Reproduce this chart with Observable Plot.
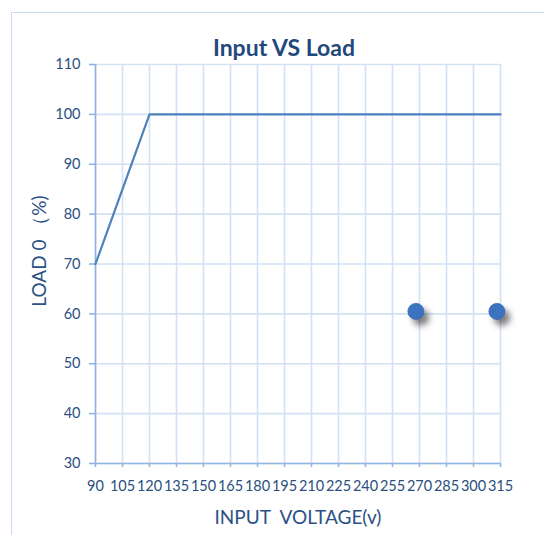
<!DOCTYPE html>
<html><head><meta charset="utf-8">
<script src="https://cdn.jsdelivr.net/npm/d3@7"></script>
<script src="https://cdn.jsdelivr.net/npm/@observablehq/plot@0.6"></script>
<style>
html,body{margin:0;padding:0;background:#fff;overflow:hidden;}
#wrap{position:relative;width:544px;height:535px;overflow:hidden;font-family:Lato,"Open Sans",sans-serif;}
#frame{position:absolute;left:11px;top:12px;width:560px;height:560px;border:1.5px solid #c8dbf2;box-sizing:border-box;}
#title{position:absolute;left:0;width:568px;top:36px;text-align:center;font-size:23px;font-weight:bold;color:#1f497d;line-height:1;}
#xlab{position:absolute;left:0;width:596px;top:507px;text-align:center;font-size:19px;color:#2a5185;white-space:pre;line-height:1;}
#ylab{position:absolute;left:37.5px;top:251px;transform:translate(-50%,-50%) rotate(-90deg);font-size:19px;color:#2a5185;white-space:pre;line-height:1;}
#chart{position:absolute;left:0;top:0;}
g[aria-label="dot"] circle{filter:drop-shadow(5px 6px 3px rgba(0,0,0,0.5));}
</style></head>
<body><div id="wrap"><div id="frame"></div><div id="chart"></div>
<div id="title">Input VS Load</div>
<div id="xlab">INPUT  VOLTAGE(v)</div>
<div id="ylab">LOAD 0 （%)</div></div>
<script>
const xTicks = [90,105,120,135,150,165,180,195,210,225,240,255,270,285,300,315];
const yTicks = [30,40,50,60,70,80,90,100,110];
const lineX = [90,120,315];
const lineY = [70,100,100];
const dotX = [268,313];
const dotY = [60.5,60.5];

const lineData = lineX.map((x,i)=>({x, y:lineY[i]}));
const dotData = dotX.map((x,i)=>({x, y:dotY[i]}));

const plot = Plot.plot({
  width:544, height:535,
  marginLeft:95, marginRight:44, marginTop:64, marginBottom:72,
  style:{fontFamily:"Lato, 'Open Sans', sans-serif", fontSize:"14.5px", color:"#2a4f80", background:"transparent"},
  x:{domain:[90,315], ticks:xTicks, label:null},
  y:{domain:[30,110], ticks:yTicks, label:null},
  marks:[
    Plot.ruleX(xTicks, {stroke:"#d2e1f4", strokeWidth:1.6}),
    Plot.ruleY(yTicks, {stroke:"#d2e1f4", strokeWidth:1.6}),
    Plot.ruleX([90], {stroke:"#8fb4e3", strokeWidth:1.6}),
    Plot.ruleY([30], {stroke:"#8fb4e3", strokeWidth:1.6}),
    Plot.axisX({ticks:xTicks, tickSize:4, tickPadding:13, stroke:"#8fb4e3", strokeWidth:1.6, fill:"#2a4f80", tickFormat:d=>String(d), label:null}),
    Plot.axisY({ticks:yTicks, tickSize:6, tickPadding:9, stroke:"#8fb4e3", strokeWidth:1.6, fill:"#2a4f80", tickFormat:d=>String(d), label:null}),
    Plot.line(lineData, {x:"x", y:"y", stroke:"#4f81bd", strokeWidth:2.2}),
    Plot.dot(dotData, {x:"x", y:"y", r:8, fill:"#3b73c0", stroke:"#3366b0", strokeWidth:0.8})
  ]
});
document.getElementById("chart").appendChild(plot);
</script></body></html>
